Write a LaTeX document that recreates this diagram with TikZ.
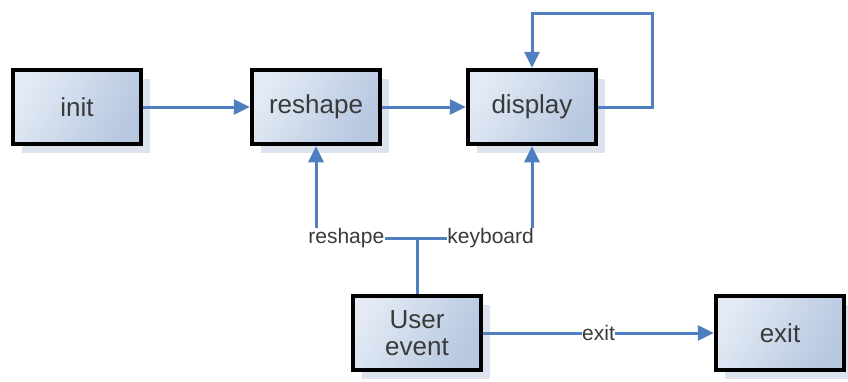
\documentclass[tikz,border=0pt]{standalone}
\usepackage{fontspec}
\setmainfont{Liberation Sans}
\usetikzlibrary{arrows.meta,shadows}
\definecolor{lineblue}{HTML}{4F7FC0}
\definecolor{boxlight}{HTML}{E3EAF4}
\definecolor{boxdark}{HTML}{B6C7E0}
\definecolor{shadowc}{HTML}{DCE3EE}
\definecolor{txt}{HTML}{3A3A3A}
\tikzset{
  stepbox/.style={draw=black, line width=4.5pt, minimum width=128pt, minimum height=74pt,
    left color=boxlight, right color=boxdark, shading angle=60,
    drop shadow={shadow xshift=9pt, shadow yshift=-9pt, fill=shadowc, opacity=1},
    text=txt, font=\fontsize{26}{28}\selectfont, align=center, inner sep=2pt},
  conn/.style={draw=lineblue, line width=3pt},
  arr/.style={conn, -{Triangle[length=16pt,width=15pt]}},
  lbl/.style={fill=white, text=txt, font=\fontsize{21}{23}\selectfont, inner sep=0.5pt}
}
\begin{document}
\begin{tikzpicture}[x=1pt,y=-1pt]
\useasboundingbox (0,0) rectangle (848,381);
\node[stepbox] (init) at (77,107) {init};
\node[stepbox] (reshape) at (316,107) {reshape};
\node[stepbox] (display) at (532,107) {display};
\node[stepbox] (ue) at (417,333) {User\\[-1pt]event};
\node[stepbox] (exit) at (780,333) {exit};
\coordinate (lr) at (652,107);
\coordinate (lt) at (652,13);
\coordinate (j) at (417,238);
\draw[arr] (init) -- (reshape);
\draw[arr] (reshape) -- (display);
\draw[arr] (display.east) -- (lr) -- (lt) -| (display.north);
\draw[conn] (ue.north) -- (j);
\draw[arr] (j) -| (reshape.south) node[lbl, pos=0.35] {reshape};
\draw[arr] (j) -| (display.south) node[lbl, pos=0.32] {keyboard};
\draw[arr] (ue) -- (exit) node[lbl, midway] {exit};
\end{tikzpicture}
\end{document}
